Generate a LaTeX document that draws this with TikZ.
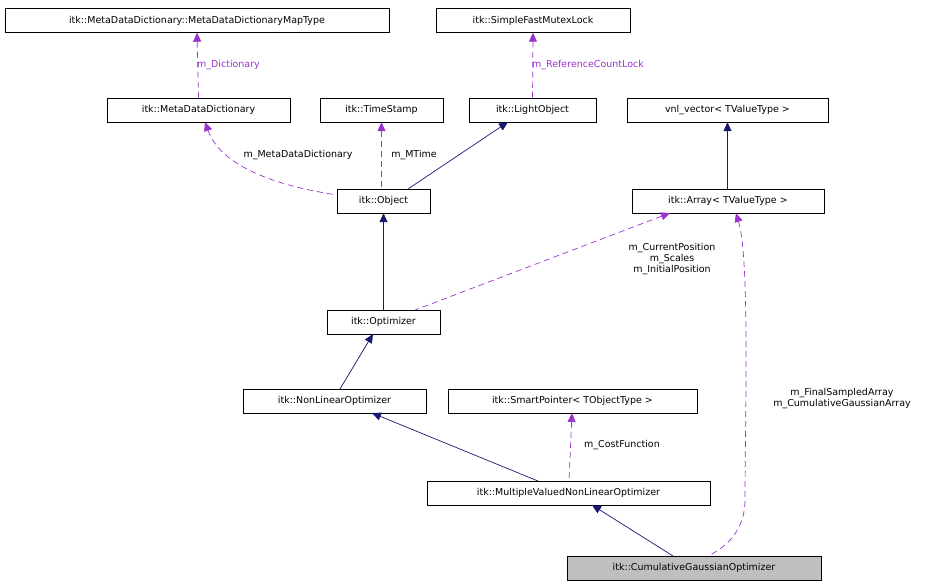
\documentclass[tikz,border=0pt]{standalone}
\usepackage{fontspec}
\setmainfont{DejaVu Sans}
\usetikzlibrary{arrows.meta}
\definecolor{nav}{RGB}{25,25,112}
\definecolor{pur}{RGB}{154,50,205}
\begin{document}
\begin{tikzpicture}[x=1pt,y=-1pt,
 box/.style={draw,fill=white,inner sep=0pt,minimum height=24pt,font=\fontsize{9.5}{11}\selectfont},
 inh/.style={nav,{Triangle[length=9pt,width=8pt]}-,line width=0.7pt},
 use/.style={pur,dashed,dash pattern=on 6pt off 4pt,{Triangle[length=9pt,width=8pt]}-,line width=0.7pt},
 lab/.style={font=\fontsize{9.5}{11}\selectfont,inner sep=1pt,align=center}]
\useasboundingbox (0,0) rectangle (948,587);
\node[box,minimum width=384pt] (map) at (197,20.5) {itk::MetaDataDictionary::MetaDataDictionaryMapType};
\node[box,minimum width=194pt] (mutex) at (533,20.5) {itk::SimpleFastMutexLock};
\node[box,minimum width=183pt] (mdd) at (198.5,110) {itk::MetaDataDictionary};
\node[box,minimum width=123pt] (ts) at (381.5,110) {itk::TimeStamp};
\node[box,minimum width=127pt] (lo) at (532.5,110) {itk::LightObject};
\node[box,minimum width=201pt] (vnl) at (727.5,110) {vnl\_vector< TValueType >};
\node[box,minimum width=93pt] (obj) at (383.5,201) {itk::Object};
\node[box,minimum width=192pt] (arr) at (728,201) {itk::Array< TValueType >};
\node[box,minimum width=113pt] (opt) at (383.5,322) {itk::Optimizer};
\node[box,minimum width=183pt] (nlo) at (334.5,401) {itk::NonLinearOptimizer};
\node[box,minimum width=249pt] (sp) at (572.5,401) {itk::SmartPointer< TObjectType >};
\node[box,minimum width=283pt] (mv) at (568.5,493) {itk::MultipleValuedNonLinearOptimizer};
\node[box,minimum width=254pt,fill=black!25] (cg) at (694,568) {itk::CumulativeGaussianOptimizer};

\draw[use] (map.south) -- (mdd.north) node[lab,midway,right=-2pt] {m\_Dictionary};
\draw[use] (mutex.south) -- (lo.north) node[lab,midway,right=-2pt] {m\_ReferenceCountLock};
\draw[use] (205,122) .. controls (215,150) and (240,180) .. (337,195);
\node[lab] at (298,155) {m\_MetaDataDictionary};
\draw[use] (ts.south) -- (obj.north -| ts.south);
\node[lab] at (414,155) {m\_MTime};
\draw[inh] (508,122) -- (408,189);
\draw[inh] (vnl.south) -- (arr.north -| vnl.south);
\draw[inh] (obj.south) -- (opt.north);
\draw[use] (670,213) -- (415,310);
\node[lab] at (672,259) {m\_CurrentPosition\\m\_Scales\\m\_InitialPosition};
\draw[inh] (373,334) -- (340,389);
\draw[inh] (372,413) -- (538,481);
\draw[use] (572,413) -- (569,481);
\node[lab] at (622,445) {m\_CostFunction};
\draw[inh] (592,505) -- (673,556);
\draw[use] (736,213) .. controls (750,260) and (745,420) .. (745,500) .. controls (745,535) and (720,550) .. (708,556);
\node[lab] at (842,399) {m\_FinalSampledArray\\m\_CumulativeGaussianArray};
\end{tikzpicture}
\end{document}
